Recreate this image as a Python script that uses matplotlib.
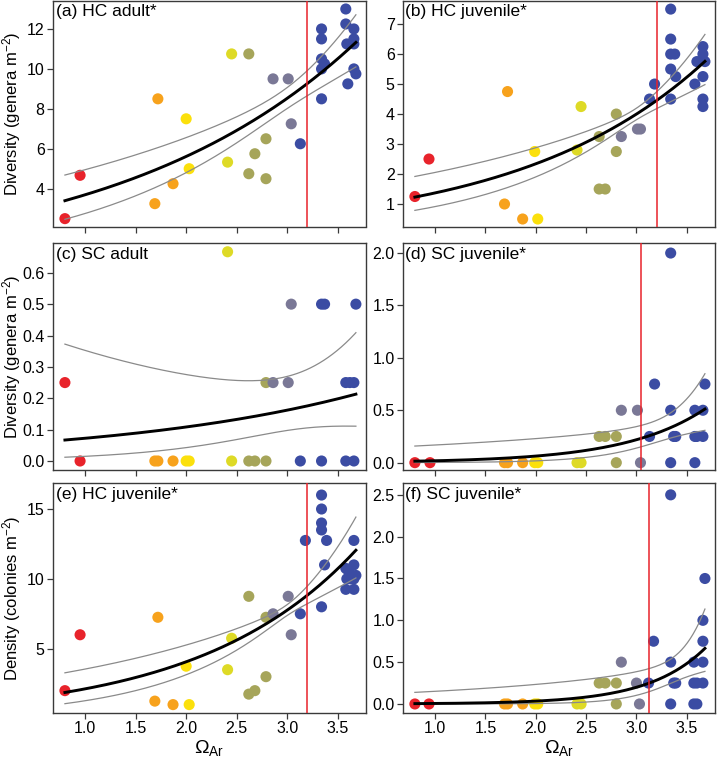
import numpy as np
import matplotlib
matplotlib.use('Agg')
import matplotlib.pyplot as plt

plt.rcParams['font.family'] = ['Liberation Sans', 'DejaVu Sans']
plt.rcParams['mathtext.fontset'] = 'custom'
plt.rcParams['mathtext.rm'] = 'Liberation Sans'
plt.rcParams['mathtext.it'] = 'Liberation Sans:italic'

# ---------------- data ----------------
a_x = [0.80, 0.95, 1.72, 1.69, 1.87, 2.00, 2.03, 2.45, 2.41, 2.62, 2.62, 2.68, 2.79, 2.79, 2.86, 3.01, 3.04,
       3.13, 3.34, 3.34, 3.34, 3.37, 3.34, 3.34, 3.58, 3.58, 3.59, 3.60, 3.66, 3.66, 3.66, 3.66, 3.68]
a_y = [2.5, 4.67, 8.5, 3.25, 4.25, 7.5, 5.0, 10.75, 5.33, 10.75, 4.75, 5.75, 6.5, 4.5, 9.5, 9.5, 7.25,
       6.25, 12.0, 11.5, 10.5, 10.25, 10.0, 8.5, 13.0, 12.25, 11.25, 9.25, 12.0, 11.5, 11.25, 10.0, 9.75]

b_x = [0.80, 0.94, 1.72, 1.69, 1.87, 1.99, 2.02, 2.45, 2.41, 2.63, 2.80, 2.80, 2.63, 2.69, 2.85, 3.01, 3.04,
       3.13, 3.18, 3.34, 3.34, 3.34, 3.38, 3.34, 3.39, 3.34, 3.58, 3.60, 3.66, 3.66, 3.68, 3.66, 3.66, 3.66]
b_y = [1.25, 2.5, 4.75, 1.0, 0.5, 2.75, 0.5, 4.25, 2.8, 3.25, 4.0, 2.75, 1.5, 1.5, 3.25, 3.5, 3.5,
       4.5, 5.0, 7.5, 6.5, 6.0, 6.0, 5.5, 5.25, 4.5, 5.0, 5.75, 6.25, 6.0, 5.75, 5.25, 4.5, 4.25]

c_x = [0.80, 0.95, 2.41, 3.04, 3.34, 3.37, 3.68, 2.79, 2.86, 3.01, 3.58, 3.62, 3.66,
       1.69, 1.72, 1.87, 2.00, 2.03, 2.45, 2.62, 2.68, 2.79, 3.13, 3.34, 3.58, 3.66]
c_y = [0.25, 0.0, 0.667, 0.5, 0.5, 0.5, 0.5, 0.25, 0.25, 0.25, 0.25, 0.25, 0.25,
       0.0, 0.0, 0.0, 0.0, 0.0, 0.0, 0.0, 0.0, 0.0, 0.0, 0.0, 0.0, 0.0]

d_x = [0.80, 0.95, 1.69, 1.72, 1.87, 1.99, 2.02, 2.41, 2.45, 2.63, 2.69, 2.80, 2.80, 2.85, 3.01, 3.04,
       3.13, 3.18, 3.34, 3.34, 3.37, 3.39, 3.34, 3.58, 3.58, 3.66, 3.58, 3.60, 3.66, 3.68]
d_y = [0.0, 0.0, 0.0, 0.0, 0.0, 0.0, 0.0, 0.0, 0.0, 0.25, 0.25, 0.25, 0.0, 0.5, 0.5, 0.0,
       0.25, 0.75, 2.0, 0.5, 0.25, 0.25, 0.0, 0.0, 0.5, 0.5, 0.25, 0.25, 0.25, 0.75]

e_x = [0.80, 0.95, 1.72, 1.69, 1.87, 2.00, 2.03, 2.45, 2.41, 2.62, 2.62, 2.68, 2.79, 2.79, 2.86, 3.01, 3.04,
       3.13, 3.18, 3.34, 3.34, 3.34, 3.34, 3.34, 3.39, 3.37, 3.58, 3.61, 3.59, 3.63, 3.58, 3.66, 3.66, 3.66, 3.68, 3.66]
e_y = [2.0, 6.0, 7.25, 1.25, 1.0, 3.75, 1.0, 5.75, 3.5, 8.75, 1.75, 2.0, 7.25, 3.0, 7.5, 8.75, 6.0,
       7.5, 12.75, 16.0, 15.0, 14.0, 13.5, 8.0, 12.75, 11.0, 10.75, 10.5, 10.0, 10.0, 9.25, 12.75, 11.0, 9.25, 10.25, 10.0]

f_x = [0.80, 0.94, 1.69, 1.72, 1.87, 1.99, 2.02, 2.41, 2.45, 2.63, 2.69, 2.80, 2.80, 2.85, 3.00, 3.03,
       3.12, 3.17, 3.34, 3.34, 3.37, 3.39, 3.34, 3.57, 3.57, 3.60, 3.57, 3.60, 3.66, 3.66, 3.66, 3.66, 3.68]
f_y = [0.0, 0.0, 0.0, 0.0, 0.0, 0.0, 0.0, 0.0, 0.0, 0.25, 0.25, 0.25, 0.0, 0.5, 0.25, 0.0,
       0.25, 0.75, 2.5, 0.5, 0.25, 0.25, 0.0, 0.5, 0.25, 0.25, 0.0, 0.0, 0.5, 0.25, 0.75, 1.0, 1.5]

# fitted model coefficients (log link): intercept, slope, se params (s0, s1, centre)
fit_a = (0.889, 0.418, 0.0615, 0.143, 3.0)
fit_b = (-0.222, 0.536, 0.048, 0.201, 3.0)
fit_c = (-3.027, 0.4024, 0.504, 0.714, 3.1)
fit_d = (-5.27, 1.25, 0.35, 0.961, 3.3)
fit_e = (0.108, 0.647, 0.05, 0.254, 3.0)
fit_f = (-6.922, 1.77, 0.378, 1.35, 3.4)

thresholds = {'a': 3.20, 'b': 3.20, 'c': None, 'd': 3.05, 'e': 3.20, 'f': 3.12}

titles = {'a': '(a) HC adult*', 'b': '(b) HC juvenile*', 'c': '(c) SC adult',
          'd': '(d) SC juvenile*', 'e': '(e) HC juvenile*', 'f': '(f) SC juvenile*'}

omega_edges = [1.2, 1.95, 2.2, 2.55, 2.82, 3.1]
site_colors = ['#E8232B', '#F7A21C', '#FBE00C', '#DEDA26', '#A6A55A', '#7A7896', '#3B4CA3']

# ---------------- layout ----------------
W, H = 717, 759
fig = plt.figure(figsize=(W / 100, H / 100), dpi=100)

cols = [(53, 366), (403, 715)]
rows = [(1, 226.5), (243.3, 470), (483.3, 713)]

panels = {
    'a': (0, 0, a_x, a_y, fit_a, (2.106, 13.40), [4, 6, 8, 10, 12], '{:.0f}'),
    'b': (0, 1, b_x, b_y, fit_b, (0.25, 7.77), [1, 2, 3, 4, 5, 6, 7], '{:.0f}'),
    'c': (1, 0, c_x, c_y, fit_c, (-0.0287, 0.694), [0, 0.1, 0.2, 0.3, 0.4, 0.5, 0.6], '{:.1f}'),
    'd': (1, 1, d_x, d_y, fit_d, (-0.07, 2.093), [0, 0.5, 1.0, 1.5, 2.0], '{:.1f}'),
    'e': (2, 0, e_x, e_y, fit_e, (0.40, 16.84), [5, 10, 15], '{:.0f}'),
    'f': (2, 1, f_x, f_y, fit_f, (-0.108, 2.638), [0, 0.5, 1.0, 1.5, 2.0, 2.5], '{:.1f}'),
}

xticks = [1.0, 1.5, 2.0, 2.5, 3.0, 3.5]
spine_col = '#3a3a3a'

for key, (r, c, xs, ys, fit, ylim, yt, yfmt) in panels.items():
    x0, x1 = cols[c]
    t0, t1 = rows[r]
    ax = fig.add_axes([x0 / W, 1 - t1 / H, (x1 - x0) / W, (t1 - t0) / H])
    xs = np.asarray(xs)
    ys = np.asarray(ys)
    cols_pts = [site_colors[i] for i in np.digitize(xs, omega_edges)]
    ax.scatter(xs, ys, s=64, c=cols_pts, edgecolors='none', zorder=2)

    ia, ib, s0, s1, m = fit
    xx = np.linspace(min(xs), max(xs), 200)
    eta = ia + ib * xx
    h = np.sqrt(s0 ** 2 + s1 ** 2 * (xx - m) ** 2)
    ax.plot(xx, np.exp(eta + h), color='#8a8a8a', lw=0.9, zorder=3)
    ax.plot(xx, np.exp(eta - h), color='#8a8a8a', lw=0.9, zorder=3)
    ax.plot(xx, np.exp(eta), color='black', lw=2.1, zorder=4)

    thr = thresholds[key]
    if thr is not None:
        ax.axvline(thr, color='#E8232B', lw=1.1, zorder=5)

    ax.set_xlim(0.682, 3.78)
    ax.set_ylim(*ylim)
    ax.set_xticks(xticks)
    ax.set_yticks(yt)
    ax.set_yticklabels([yfmt.format(v) for v in yt])
    if r == 2:
        ax.set_xticklabels(['{:.1f}'.format(v) for v in xticks])
        ax.set_xlabel(r'$\Omega_{\mathrm{Ar}}$', fontsize=14, labelpad=1)
    else:
        ax.set_xticklabels([])
    ax.tick_params(direction='out', length=4, width=0.9, color=spine_col,
                   labelsize=11.5, pad=2)
    for sp in ax.spines.values():
        sp.set_color(spine_col)
        sp.set_linewidth(1.0)

    ax.text(0.008, 0.985, titles[key], transform=ax.transAxes, ha='left', va='top',
            fontsize=12.5, zorder=6)

    if c == 0:
        if r < 2:
            ax.set_ylabel('Diversity (genera m$^{-2}$)', fontsize=12)
        else:
            ax.set_ylabel('Density (colonies m$^{-2}$)', fontsize=12)
        ax.yaxis.set_label_coords(-(x0 - 23) / (x1 - x0), 0.5)

fig.savefig('out.png', dpi=100)
